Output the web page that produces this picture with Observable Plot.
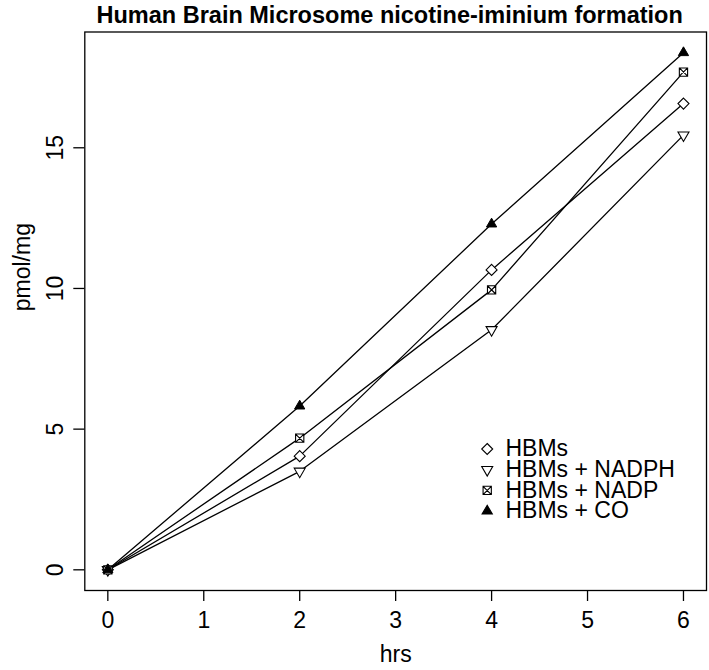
<!DOCTYPE html>
<html>
<head>
<meta charset="utf-8">
<script src="https://cdn.jsdelivr.net/npm/d3@7"></script>
<script src="https://cdn.jsdelivr.net/npm/@observablehq/plot@0.6"></script>
<style>
  html, body { margin: 0; padding: 0; background: #fff; }
  #chart svg { display: block; }
</style>
</head>
<body>
<div id="chart"></div>
<script>
const title = "Human Brain Microsome nicotine-iminium formation";
const xLabel = "hrs";
const yLabel = "pmol/mg";
const hours = [0, 2, 4, 6];
const seriesNames = ["HBMs", "HBMs + NADPH", "HBMs + NADP", "HBMs + CO"];
const hbms  = [0, 4.04, 10.66, 16.57];
const nadph = [0, 3.50, 8.53, 15.45];
const nadp  = [0, 4.68, 9.95, 17.69];
const co    = [0, 5.82, 12.29, 18.38];
const xTicks = [0, 1, 2, 3, 4, 5, 6];
const yTicks = [0, 5, 10, 15];

const seriesValues = [hbms, nadph, nadp, co];
const rows = [];
seriesNames.forEach((s, i) => hours.forEach((h, j) => rows.push({series: s, hour: h, value: seriesValues[i][j]})));

// R-like symbols
const k = size => Math.sqrt(size / Math.PI);
const symDiamond = {draw(c, size) { const r = k(size); c.moveTo(0, -r); c.lineTo(r, 0); c.lineTo(0, r); c.lineTo(-r, 0); c.closePath(); }};
const symTriDown = {draw(c, size) { const r = k(size); const w = r, h = 1.73 * r; c.moveTo(-w, -h / 3); c.lineTo(w, -h / 3); c.lineTo(0, 2 * h / 3); c.closePath(); }};
const symSquareX = {draw(c, size) { const r = k(size) * 0.75; c.moveTo(-r, -r); c.lineTo(r, -r); c.lineTo(r, r); c.lineTo(-r, r); c.closePath(); c.moveTo(-r, -r); c.lineTo(r, r); c.moveTo(r, -r); c.lineTo(-r, r); }};
const symTriUp = {draw(c, size) { const r = k(size); const w = 0.93 * r, h = 1.6 * r; c.moveTo(0, -2 * h / 3); c.lineTo(w, h / 3); c.lineTo(-w, h / 3); c.closePath(); }};
const symbols = [symDiamond, symTriDown, symSquareX, symTriUp];

const font = "'Liberation Sans', Arial, Helvetica, sans-serif";
const fs = 23;
const ymax = d3.max(rows, d => d.value);
const xPad = 0.04 * (6 - 0), yPad = 0.04 * ymax;

const legendMarks = [];
seriesNames.forEach((s, i) => {
  const dy = 417 + i * 20.7;
  legendMarks.push(Plot.dot([s], {frameAnchor: "top-left", dx: 402.4, dy, symbol: d => d, r: 5.5,
    fill: s === "HBMs + CO" ? "black" : "white", stroke: "black", strokeWidth: 1.1}));
  legendMarks.push(Plot.text([s], {frameAnchor: "top-left", dx: 420.7, dy, text: d => d, textAnchor: "start",
    lineAnchor: "middle", fontSize: fs, fill: "black"}));
});

const chart = Plot.plot({
  width: 709,
  height: 670,
  marginTop: 31.5,
  marginBottom: 80,
  marginLeft: 84.3,
  marginRight: 3,
  style: {fontFamily: font, background: "white", color: "black"},
  x: {domain: [0 - xPad, 6 + xPad], axis: null},
  y: {domain: [0 - yPad, ymax + yPad], axis: null},
  symbol: {domain: seriesNames, range: symbols},
  marks: [
    Plot.frame({stroke: "black", strokeWidth: 1.3}),
    Plot.axisX({ticks: xTicks, tickSize: 11, tickFormat: () => "", strokeWidth: 1.3, label: null}),
    Plot.axisY({ticks: yTicks, tickSize: 11, tickFormat: () => "", strokeWidth: 1.3, label: null}),
    Plot.text(xTicks, {x: d => d, frameAnchor: "bottom", dy: 30, text: d => String(d), lineAnchor: "middle", fontSize: fs, fill: "black"}),
    Plot.text(yTicks, {y: d => d, frameAnchor: "left", dx: -29.5, text: d => String(d), rotate: -90, lineAnchor: "middle", textAnchor: "middle", fontSize: fs, fill: "black"}),
    Plot.text([xLabel], {frameAnchor: "bottom", dy: 64, text: d => d, lineAnchor: "middle", fontSize: fs, fill: "black"}),
    Plot.text([yLabel], {frameAnchor: "left", dx: -62, text: d => d, rotate: -90, lineAnchor: "middle", fontSize: fs, fill: "black"}),
    Plot.text([title], {frameAnchor: "top", dx: -6, dy: -17, text: d => d, lineAnchor: "middle", fontSize: 23.5, fontWeight: "bold", fill: "black"}),
    Plot.line(rows, {x: "hour", y: "value", z: "series", stroke: "black", strokeWidth: 1.3}),
    Plot.dot(rows.filter(d => d.series !== "HBMs + CO"), {x: "hour", y: "value", symbol: "series", r: 5.5, fill: "white", stroke: "black", strokeWidth: 1.1}),
    Plot.dot(rows.filter(d => d.series === "HBMs + CO"), {x: "hour", y: "value", symbol: "series", r: 5.5, fill: "black", stroke: "black", strokeWidth: 1}),
    ...legendMarks
  ]
});
document.getElementById("chart").appendChild(chart);
</script>
</body>
</html>
